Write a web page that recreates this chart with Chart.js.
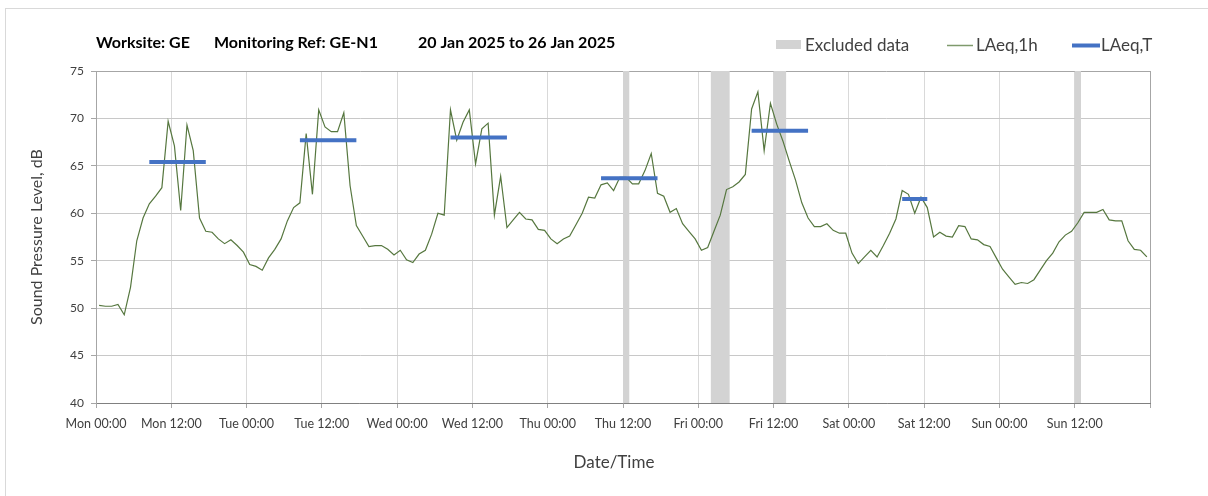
<!DOCTYPE html>
<html>
<head>
<meta charset="utf-8">
<script src="https://cdn.jsdelivr.net/npm/chart.js@4"></script>
<style>
  html, body { margin: 0; padding: 0; background: #ffffff; }
  #wrap { width: 1208px; height: 496px; position: relative; }
</style>
</head>
<body>
<div id="wrap"><canvas id="c" width="1208" height="496"></canvas></div>
<script>
// ---- Data ----
const titleParts = ['Worksite: GE', 'Monitoring Ref: GE-N1', '20 Jan 2025 to 26 Jan 2025'];
const xAxisTitle = 'Date/Time';
const yAxisTitle = 'Sound Pressure Level, dB';
const tickLabels = ['Mon 00:00', 'Mon 12:00', 'Tue 00:00', 'Tue 12:00', 'Wed 00:00', 'Wed 12:00',
  'Thu 00:00', 'Thu 12:00', 'Fri 00:00', 'Fri 12:00', 'Sat 00:00', 'Sat 12:00', 'Sun 00:00', 'Sun 12:00', ''];
// hourly LAeq,1h values, hour 0 = Mon 00:00-01:00
const laeq1h = [
  50.3, 50.2, 50.2, 50.4, 49.3, 52.2, 57.1, 59.5, 61.0, 61.8, 62.7, 69.7,
  67.1, 60.3, 69.3, 66.6, 59.5, 58.1, 58.0, 57.3, 56.8, 57.2, 56.6, 55.9,
  54.6, 54.4, 54.0, 55.3, 56.2, 57.3, 59.2, 60.6, 61.1, 68.4, 62.0, 70.9,
  69.1, 68.6, 68.6, 70.6, 62.9, 58.7, 57.6, 56.5, 56.6, 56.6, 56.2, 55.6,
  56.1, 55.1, 54.8, 55.7, 56.1, 57.8, 60.0, 59.8, 70.9, 67.7, 69.6, 70.9,
  65.2, 68.9, 69.5, 59.8, 63.9, 58.5, 59.3, 60.1, 59.4, 59.3, 58.3, 58.2,
  57.3, 56.8, 57.3, 57.6, 58.8, 60.0, 61.7, 61.6, 63.0, 63.2, 62.4, 63.8,
  63.8, 63.1, 63.1, 64.5, 66.3, 62.1, 61.8, 60.1, 60.5, 58.9, 58.1, 57.3,
  56.1, 56.4, 58.1, 59.8, 62.5, 62.8, 63.3, 64.1, 71.0, 72.8, 66.6, 71.6,
  69.4, 67.6, 65.5, 63.5, 61.1, 59.5, 58.6, 58.6, 58.9, 58.2, 57.9, 57.9,
  55.8, 54.7, 55.4, 56.1, 55.4, 56.6, 57.9, 59.4, 62.4, 62.0, 60.0, 61.7,
  60.6, 57.5, 58.0, 57.6, 57.5, 58.7, 58.6, 57.3, 57.2, 56.7, 56.5, 55.3,
  54.1, 53.3, 52.5, 52.7, 52.6, 53.0, 54.0, 55.0, 55.8, 57.0, 57.7, 58.1,
  59.0, 60.1, 60.1, 60.1, 60.4, 59.3, 59.2, 59.2, 57.1, 56.2, 56.1, 55.4
];
// LAeq,T periods (hours from Mon 00:00)
const periodStart = [8, 32, 56, 80, 104, 128];
const periodEnd   = [18, 42, 66, 90, 114, 133];
const periodLevel = [65.4, 67.7, 68.0, 63.7, 68.7, 61.5];
// Excluded data (hours from Mon 00:00)
const excludedStart = [84, 98, 108, 156];
const excludedEnd   = [85, 101, 110, 157];
const yTicks = [40, 45, 50, 55, 60, 65, 70, 75];

// ---- Build datasets ----
const lineData = laeq1h.map((v, i) => ({ x: i + 0.5, y: v }));
const periodData = [];
periodStart.forEach((s, i) => {
  periodData.push({ x: s + 0.5, y: periodLevel[i] });
  periodData.push({ x: periodEnd[i] - 0.5, y: periodLevel[i] });
  periodData.push({ x: periodEnd[i], y: null });
});

const FONT = 'Lato, "Open Sans", sans-serif';
const GREEN = '#56773f';
const BLUE = '#4472c4';
const BAND = '#d3d3d3';

const bandsPlugin = {
  id: 'bands',
  beforeDatasetsDraw(chart) {
    const { ctx, chartArea, scales } = chart;
    ctx.save();
    ctx.fillStyle = BAND;
    excludedStart.forEach((s, i) => {
      const x0 = scales.x.getPixelForValue(s);
      const x1 = scales.x.getPixelForValue(excludedEnd[i]);
      ctx.fillRect(x0, chartArea.top, x1 - x0, chartArea.bottom - chartArea.top);
    });
    ctx.restore();
  }
};

const decorPlugin = {
  id: 'decor',
  beforeDraw(chart) {
    const ctx = chart.ctx;
    ctx.save();
    ctx.strokeStyle = '#d9d9d9';
    ctx.lineWidth = 1;
    ctx.strokeRect(5.5, 8.5, 1240, 520);
    ctx.restore();
  },
  afterDraw(chart) {
    const ctx = chart.ctx;
    ctx.save();
    // title
    ctx.fillStyle = '#000000';
    ctx.font = 'bold 16px ' + FONT;
    ctx.textBaseline = 'alphabetic';
    ctx.textAlign = 'left';
    const tx = [96, 214, 418];
    titleParts.forEach((t, i) => ctx.fillText(t, tx[i], 48));
    // x axis title
    ctx.font = '17px ' + FONT;
    ctx.fillStyle = '#404040';
    ctx.textAlign = 'center';
    ctx.fillText(xAxisTitle, 614, 468);
    // legend
    ctx.textAlign = 'left';
    ctx.fillStyle = BAND;
    ctx.fillRect(776, 40, 25, 9);
    ctx.fillStyle = '#404040';
    ctx.fillText('Excluded data', 805, 51);
    ctx.strokeStyle = '#7f9a6c';
    ctx.lineWidth = 1.5;
    ctx.beginPath(); ctx.moveTo(947, 45.5); ctx.lineTo(973, 45.5); ctx.stroke();
    ctx.fillText('LAeq,1h', 976, 51);
    ctx.strokeStyle = BLUE;
    ctx.lineWidth = 4;
    ctx.beginPath(); ctx.moveTo(1072, 45.5); ctx.lineTo(1100, 45.5); ctx.stroke();
    ctx.fillText('LAeq,T', 1101, 51);
    ctx.restore();
  }
};

new Chart(document.getElementById('c'), {
  type: 'line',
  data: {
    datasets: [
      {
        label: 'LAeq,T',
        data: periodData,
        borderColor: BLUE,
        borderWidth: 4,
        borderCapStyle: 'butt',
        pointRadius: 0,
        spanGaps: false,
        order: 0
      },
      {
        label: 'LAeq,1h',
        data: lineData,
        borderColor: GREEN,
        borderWidth: 1.2,
        pointRadius: 0,
        tension: 0,
        order: 1
      }
    ]
  },
  options: {
    responsive: false,
    animation: false,
    events: [],
    layout: { padding: { top: 71, right: 58, left: 0, bottom: 0 } },
    plugins: { legend: { display: false }, title: { display: false }, tooltip: { enabled: false } },
    scales: {
      x: {
        type: 'linear',
        min: 0, max: 168,
        afterFit(s) { s.height = 93; },
        afterBuildTicks(s) { s.ticks = tickLabels.map((_, i) => ({ value: i * 12 })); },
        ticks: {
          autoSkip: false, maxRotation: 0, padding: 8,
          font: { family: FONT, size: 12.5 }, color: '#404040',
          callback: (v) => tickLabels[Math.round(v / 12)] ?? ''
        },
        grid: {
          color: (c) => (c.tick && c.tick.value === 168) ? '#a6a6a6' : '#d9d9d9',
          tickColor: '#a6a6a6', tickLength: 5, lineWidth: 1
        },
        border: { color: '#808080', width: 1 },
        title: { display: false }
      },
      y: {
        min: 40, max: 75,
        afterFit(s) { s.width = 96; },
        afterBuildTicks(s) { s.ticks = yTicks.map(v => ({ value: v })); },
        ticks: { padding: 7, font: { family: FONT, size: 12 }, color: '#404040' },
        grid: {
          color: (c) => (c.tick && c.tick.value === 75) ? '#a6a6a6' : '#c8c8c8',
          tickColor: '#a6a6a6', tickLength: 5, lineWidth: 1
        },
        border: { color: '#a6a6a6', width: 1 },
        title: { display: true, text: yAxisTitle, font: { family: FONT, size: 16 }, color: '#404040', padding: { top: 27, bottom: 0 } }
      }
    }
  },
  plugins: [bandsPlugin, decorPlugin]
});
</script>
</body>
</html>
